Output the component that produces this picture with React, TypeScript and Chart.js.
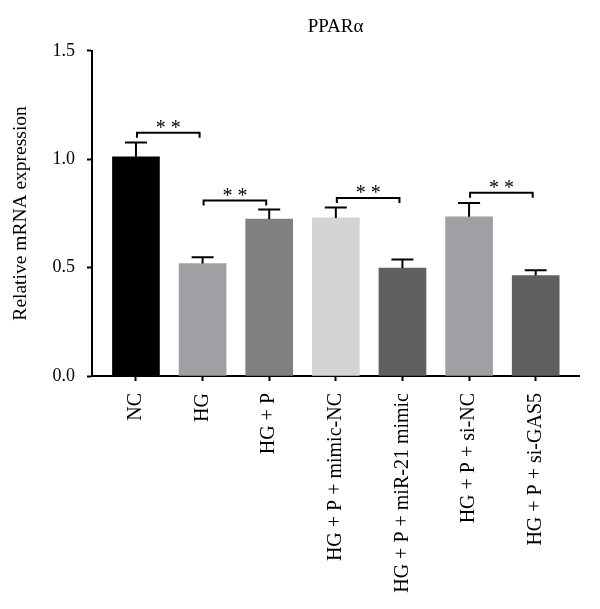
import { useEffect, useRef } from 'react';
import { Chart, registerables } from 'chart.js';

Chart.register(...registerables);

const categories = [
  'NC',
  'HG',
  'HG + P',
  'HG + P + mimic-NC',
  'HG + P + miR-21 mimic',
  'HG + P + si-NC',
  'HG + P + si-GAS5',
];
const means = [1.011, 0.519, 0.724, 0.729, 0.498, 0.734, 0.463];
const errors = [0.066, 0.029, 0.044, 0.048, 0.039, 0.064, 0.025];
const barColors = ['#000000', '#a0a0a4', '#808080', '#d4d4d4', '#5f615f', '#a0a0a4', '#5f615f'];
const yTickValues = [0, 0.5, 1.0, 1.5];
const yTickLabels = ['0.0', '0.5', '1.0', '1.5'];
const sigFrom = [0, 1, 3, 5];
const sigTo = [1, 2, 4, 6];
const sigLevels = [1.122, 0.809, 0.821, 0.845];
const sigLabels = ['* *', '* *', '* *', '* *'];

const FONT = "'Liberation Serif', 'Times New Roman', serif";

const annotations = {
  id: 'annotations',
  afterDatasetsDraw(chart: any) {
    const { ctx, scales } = chart;
    const x = scales.x;
    const y = scales.y;
    ctx.save();
    ctx.strokeStyle = '#000';
    ctx.fillStyle = '#000';
    ctx.lineWidth = 2;
    means.forEach((m, i) => {
      const px = x.getPixelForValue(i);
      const y0 = y.getPixelForValue(m);
      const y1 = y.getPixelForValue(m + errors[i]);
      ctx.beginPath();
      ctx.moveTo(px, y0);
      ctx.lineTo(px, y1);
      ctx.moveTo(px - 11, y1);
      ctx.lineTo(px + 11, y1);
      ctx.stroke();
    });
    ctx.font = `20px ${FONT}`;
    ctx.textAlign = 'center';
    ctx.textBaseline = 'alphabetic';
    sigLevels.forEach((lvl, k) => {
      const xa = x.getPixelForValue(sigFrom[k]) + 1;
      const xb = x.getPixelForValue(sigTo[k]) - 3;
      const py = y.getPixelForValue(lvl);
      ctx.beginPath();
      ctx.moveTo(xa, py + 5);
      ctx.lineTo(xa, py);
      ctx.lineTo(xb, py);
      ctx.lineTo(xb, py + 5);
      ctx.stroke();
      ctx.fillText(sigLabels[k], (xa + xb) / 2, py + 1);
    });
    ctx.restore();
  },
};

export default function App() {
  const canvasRef = useRef<HTMLCanvasElement | null>(null);

  useEffect(() => {
    document.body.style.margin = '0';
    const canvas = canvasRef.current;
    if (!canvas) return;
    const chart = new Chart(canvas, {
      type: 'bar',
      data: {
        datasets: [
          {
            data: means.map((v, i) => ({ x: i, y: v })),
            backgroundColor: barColors,
            borderWidth: 0,
            barThickness: 47,
          },
        ],
      },
      options: {
        animation: false,
        responsive: true,
        maintainAspectRatio: false,
        layout: { padding: { left: 0, right: 21, top: 0, bottom: 0 } },
        plugins: {
          legend: { display: false },
          tooltip: { enabled: false },
          title: {
            display: true,
            text: 'PPARα',
            fullSize: false,
            color: '#000',
            font: { family: FONT, size: 19, weight: 'normal' },
            padding: { top: 16, bottom: 12 },
          },
        },
        scales: {
          x: {
            type: 'linear',
            offset: false,
            min: -0.66,
            max: 6.65,
            afterBuildTicks: (scale: any) => {
              scale.ticks = categories.map((_, i) => ({ value: i }));
            },
            afterFit: (scale: any) => {
              scale.height = 233;
            },
            ticks: {
              autoSkip: false,
              minRotation: 90,
              maxRotation: 90,
              padding: 12,
              color: '#000',
              font: { family: FONT, size: 20 },
              callback: (_v: any, idx: number) => categories[idx],
            },
            grid: {
              display: true,
              offset: false,
              drawOnChartArea: false,
              drawTicks: true,
              tickLength: 5,
              tickWidth: 2,
              tickColor: '#000',
            },
            border: { display: true, color: '#000', width: 2 },
          },
          y: {
            type: 'linear',
            min: 0,
            max: 1.5,
            afterBuildTicks: (scale: any) => {
              scale.ticks = yTickValues.map((v) => ({ value: v }));
            },
            afterFit: (scale: any) => {
              scale.width = 92;
            },
            ticks: {
              padding: 12,
              color: '#000',
              font: { family: FONT, size: 18 },
              callback: (_v: any, idx: number) => yTickLabels[idx],
            },
            grid: {
              display: true,
              drawOnChartArea: false,
              drawTicks: true,
              tickLength: 5,
              tickWidth: 2,
              tickColor: '#000',
            },
            border: { display: true, color: '#000', width: 2 },
            title: {
              display: true,
              text: 'Relative mRNA expression',
              color: '#000',
              font: { family: FONT, size: 19.5 },
              padding: { top: 9, bottom: 0 },
            },
          },
        },
      },
      plugins: [annotations],
    });
    return () => chart.destroy();
  }, []);

  return (
    <div style={{ width: 600, height: 609, position: 'relative' }}>
      <canvas ref={canvasRef} />
    </div>
  );
}
